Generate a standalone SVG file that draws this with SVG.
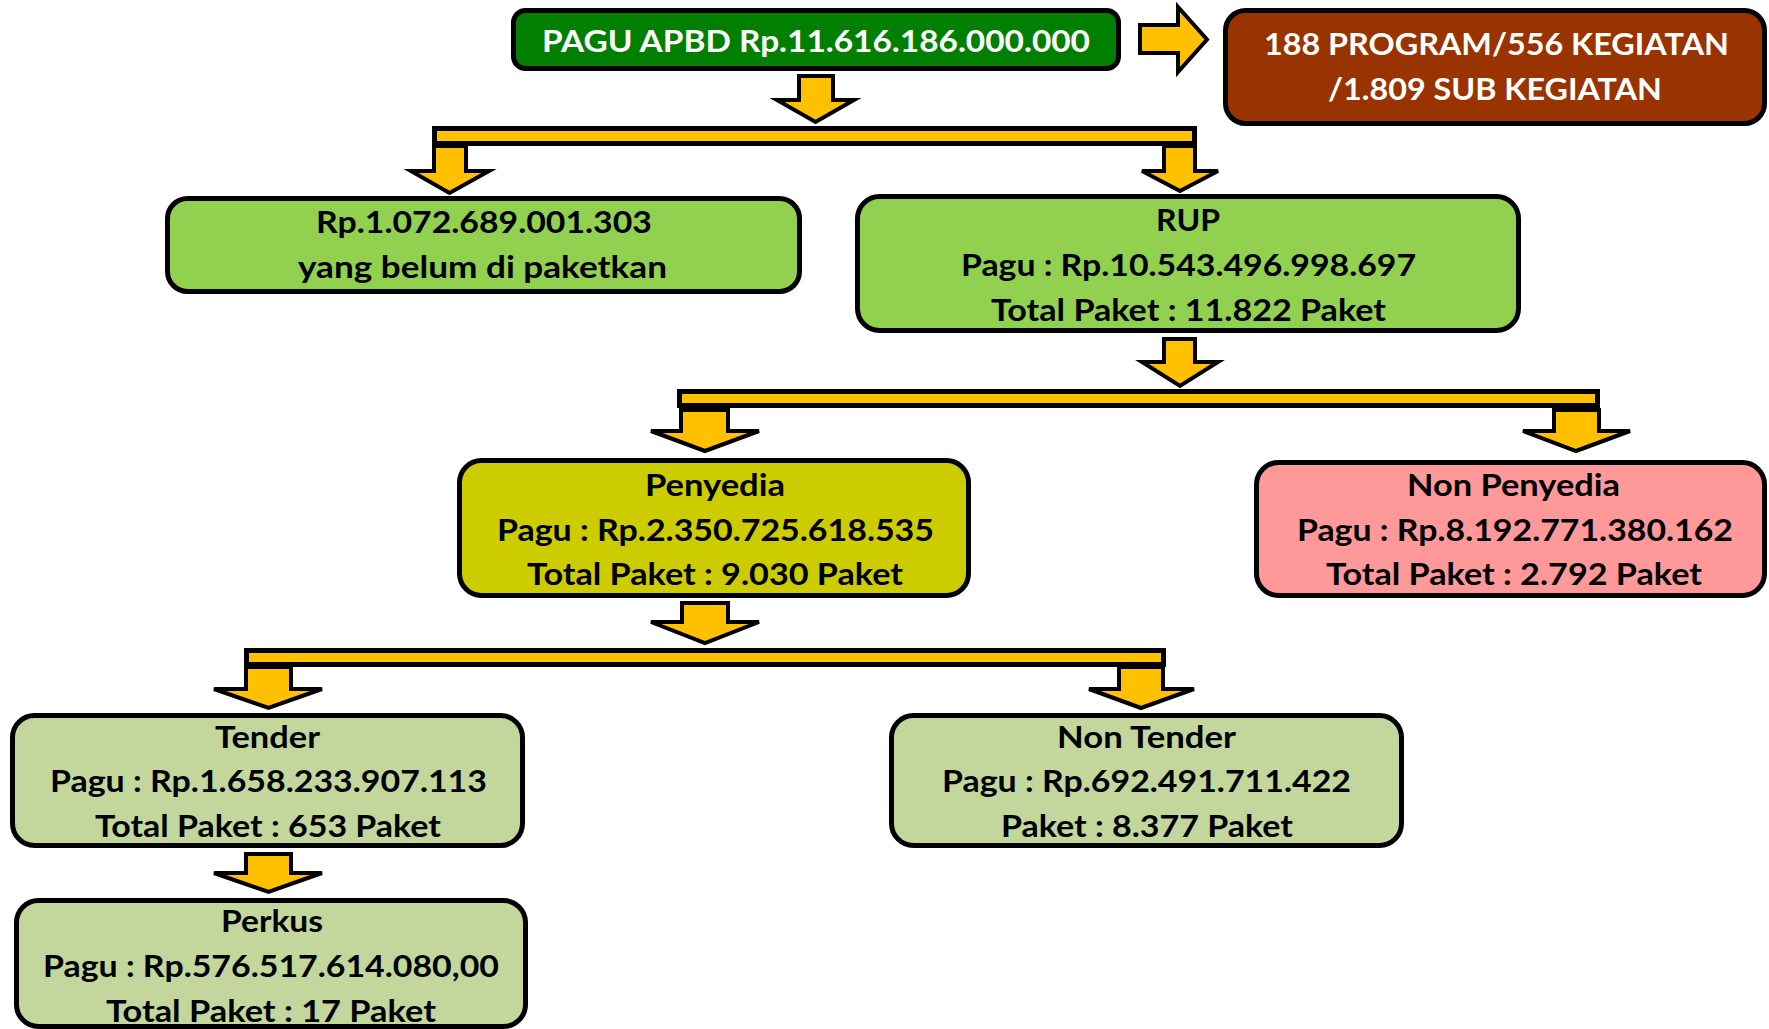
<svg xmlns="http://www.w3.org/2000/svg" width="1769" height="1029" viewBox="0 0 1769 1029">
<style>
.box{stroke:#000;stroke-width:5}
.arw{fill:#FFC000;stroke:#000;stroke-width:4;stroke-linejoin:miter}
.bar{fill:#FFC000;stroke:#000;stroke-width:5}
text{font-family:Lato,"Open Sans","Liberation Sans",sans-serif;font-weight:bold;font-size:31px;fill:#000}
.w{fill:#fff}
</style>
<rect width="1769" height="1029" fill="#fff"/>
<g id="connectors">
<path class="arw" d="M1140,25 H1178 V7 L1207,39.5 L1178,72 V53 H1140 Z"/>
<path class="arw" d="M799,76 H833 V100 H854 L815.5,122 L777,100 H799 Z"/>
<rect class="bar" x="434.5" y="128.5" width="760" height="15"/>
<path class="arw" d="M434,146 H466 V171 H489 L449.5,193 L411,171 H434 Z"/>
<path class="arw" d="M1164,146 H1195 V171 H1218 L1180,191 L1142,171 H1164 Z"/>
<path class="arw" d="M1164,339 H1195 V362 H1218 L1180,386 L1142,362 H1164 Z"/>
<rect class="bar" x="679.5" y="391.5" width="918" height="14"/>
<path class="arw" d="M681,410 H728 V431 H759 L705,451 L651,431 H681 Z"/>
<path class="arw" d="M1554,410 H1599 V431 H1630 L1576,451 L1523,431 H1554 Z"/>
<path class="arw" d="M682,603 H728 V622 H759 L705,643 L651,622 H682 Z"/>
<rect class="bar" x="246.5" y="650.5" width="917" height="14"/>
<path class="arw" d="M246,667 H291 V689 H322 L268.5,708 L214,689 H246 Z"/>
<path class="arw" d="M1119,667 H1163 V689 H1194 L1141,708 L1089,689 H1119 Z"/>
<path class="arw" d="M246,854 H291 V873 H322 L268.5,892 L214,873 H246 Z"/>
</g>
<g id="pagu">
<rect class="box" x="513.5" y="10.5" width="605" height="58" rx="12" fill="#007F00"/>
<text class="w" x="542" y="52" textLength="548" lengthAdjust="spacingAndGlyphs">PAGU APBD Rp.11.616.186.000.000</text>
</g>
<g id="program">
<rect class="box" x="1225.5" y="10.5" width="539" height="113" rx="20" fill="#993300"/>
<text class="w" x="1264" y="55" textLength="465" lengthAdjust="spacingAndGlyphs">188 PROGRAM/556 KEGIATAN</text>
<text class="w" x="1328" y="100" textLength="334" lengthAdjust="spacingAndGlyphs">/1.809 SUB KEGIATAN</text>
</g>
<g id="belum">
<rect class="box" x="167.5" y="198.5" width="632" height="93" rx="20" fill="#92D050"/>
<text x="316" y="233" textLength="336" lengthAdjust="spacingAndGlyphs">Rp.1.072.689.001.303</text>
<text x="298" y="278" textLength="369" lengthAdjust="spacingAndGlyphs">yang belum di paketkan</text>
</g>
<g id="rup">
<rect class="box" x="857.5" y="196.5" width="661" height="134" rx="22" fill="#92D050"/>
<text x="1156" y="231" textLength="64" lengthAdjust="spacingAndGlyphs">RUP</text>
<text x="961" y="276" textLength="455" lengthAdjust="spacingAndGlyphs">Pagu : Rp.10.543.496.998.697</text>
<text x="991" y="321" textLength="395" lengthAdjust="spacingAndGlyphs">Total Paket : 11.822 Paket</text>
</g>
<g id="penyedia">
<rect class="box" x="459.5" y="460.5" width="509" height="135" rx="22" fill="#CCCC00"/>
<text x="645" y="496" textLength="140" lengthAdjust="spacingAndGlyphs">Penyedia</text>
<text x="497" y="541" textLength="437" lengthAdjust="spacingAndGlyphs">Pagu : Rp.2.350.725.618.535</text>
<text x="527" y="585" textLength="376" lengthAdjust="spacingAndGlyphs">Total Paket : 9.030 Paket</text>
</g>
<g id="nonpenyedia">
<rect class="box" x="1256.5" y="462.5" width="508" height="133" rx="22" fill="#FF9999"/>
<text x="1407" y="496" textLength="213" lengthAdjust="spacingAndGlyphs">Non Penyedia</text>
<text x="1297" y="541" textLength="436" lengthAdjust="spacingAndGlyphs">Pagu : Rp.8.192.771.380.162</text>
<text x="1326" y="585" textLength="376" lengthAdjust="spacingAndGlyphs">Total Paket : 2.792 Paket</text>
</g>
<g id="tender">
<rect class="box" x="12.5" y="715.5" width="510" height="130" rx="22" fill="#C3D69B"/>
<text x="215" y="748" textLength="105" lengthAdjust="spacingAndGlyphs">Tender</text>
<text x="50" y="792" textLength="437" lengthAdjust="spacingAndGlyphs">Pagu : Rp.1.658.233.907.113</text>
<text x="95" y="837" textLength="346" lengthAdjust="spacingAndGlyphs">Total Paket : 653 Paket</text>
</g>
<g id="nontender">
<rect class="box" x="891.5" y="715.5" width="510" height="130" rx="22" fill="#C3D69B"/>
<text x="1057" y="748" textLength="179" lengthAdjust="spacingAndGlyphs">Non Tender</text>
<text x="942" y="792" textLength="409" lengthAdjust="spacingAndGlyphs">Pagu : Rp.692.491.711.422</text>
<text x="1001" y="837" textLength="292" lengthAdjust="spacingAndGlyphs">Paket : 8.377 Paket</text>
</g>
<g id="perkus">
<rect class="box" x="16.5" y="900.5" width="509" height="126" rx="22" fill="#C3D69B"/>
<text x="221" y="932" textLength="102" lengthAdjust="spacingAndGlyphs">Perkus</text>
<text x="43" y="977" textLength="456" lengthAdjust="spacingAndGlyphs">Pagu : Rp.576.517.614.080,00</text>
<text x="106" y="1022" textLength="330" lengthAdjust="spacingAndGlyphs">Total Paket : 17 Paket</text>
</g>
</svg>
